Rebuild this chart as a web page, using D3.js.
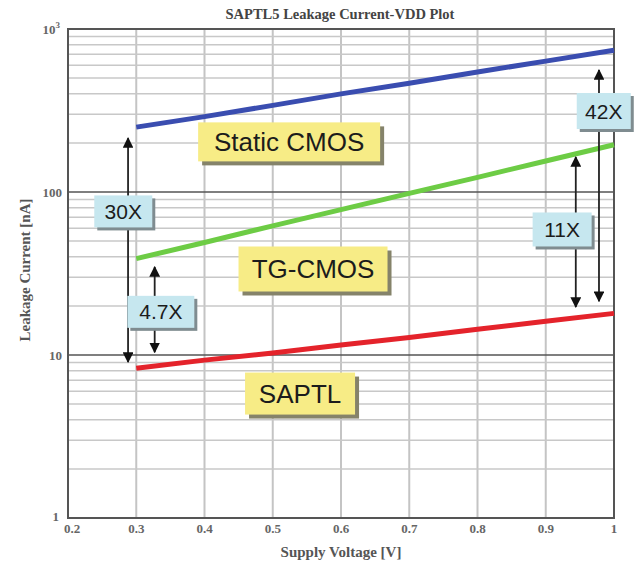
<!DOCTYPE html>
<html lang="en">
<head>
    <meta charset="UTF-8">
    <title>SAPTL5 Leakage Current-VDD Plot</title>
    <script src="https://d3js.org/d3.v7.min.js"></script>
    <style>
        body { margin: 0; background: #fff; }
        svg { display: block; }
        .tick-label { font-family: "Liberation Serif", serif; font-size: 13px; fill: #666; font-weight: bold; }
        .axis-title { font-family: "Liberation Serif", serif; font-size: 15px; fill: #555; font-weight: bold; }
        .tag { font-family: "Liberation Sans", Arial, sans-serif; fill: #1c1c1c; }
    </style>
</head>
<body>
    <svg width="637" height="562"></svg>
    <script>
        // supply voltage (V) and leakage current (nA)
        const voltage    = [0.3, 0.4, 0.5, 0.6, 0.7, 0.8, 0.9, 1.0];
        const staticCmos = [250, 290, 340, 400, 465, 545, 635, 740];
        const tgCmos     = [39, 49, 62, 78, 98, 123, 155, 195];
        const saptl      = [8.3, 9.3, 10.3, 11.5, 12.8, 14.4, 16.1, 18];

        const xTicks = [0.2, 0.3, 0.4, 0.5, 0.6, 0.7, 0.8, 0.9, 1];
        const xTickLabels = ["0.2", "0.3", "0.4", "0.5", "0.6", "0.7", "0.8", "0.9", "1"];
        const yTicks = [1, 10, 100, 1000];
        const yTickLabels = ["1", "10", "100", "10"];

        // series name boxes: text, voltage, current at the box centre
        const seriesTags = [
            { text: "Static CMOS", v: 0.524, i: 203, w: 182, h: 39 },
            { text: "TG-CMOS", v: 0.559, i: 33.7, w: 149, h: 45 },
            { text: "SAPTL", v: 0.540, i: 5.8, w: 110, h: 42 }
        ];
        // ratio arrows: label, arrow voltage, from/to current, box centre
        const ratios = [
            { text: "30X", v: 0.288, from: 214, to: 9.06, bv: 0.281, bi: 76, w: 58, h: 32 },
            { text: "4.7X", v: 0.327, from: 34.7, to: 10.4, bv: 0.336, bi: 18.4, w: 67, h: 32 },
            { text: "11X", v: 0.944, from: 164, to: 19.7, bv: 0.924, bi: 58.9, w: 59, h: 34 },
            { text: "42X", v: 0.978, from: 560, to: 21.4, bv: 0.985, bi: 314, w: 54, h: 36 }
        ];

        const svg = d3.select("svg");
        const mLeft = 68, mRight = 614, mTop = 29, mBottom = 518;

        const x = d3.scaleLinear().domain([0.2, 1]).range([mLeft, mRight]);
        const y = d3.scaleLog().domain([1, 1000]).range([mBottom, mTop]);

        // title
        svg.append("text")
            .attr("x", 340).attr("y", 19)
            .attr("text-anchor", "middle")
            .attr("class", "axis-title")
            .style("fill", "#444")
            .style("font-size", "14.5px")
            .text("SAPTL5 Leakage Current-VDD Plot");

        // grid
        const grid = svg.append("g");
        grid.selectAll(".vgrid")
            .data(xTicks.slice(1, -1))
            .enter().append("line")
            .attr("x1", d => x(d)).attr("x2", d => x(d))
            .attr("y1", mTop).attr("y2", mBottom)
            .attr("stroke", "#c4c4c4").attr("stroke-width", 2);

        grid.selectAll(".hgrid")
            .data(y.ticks().filter(d => d > 1 && d < 1000))
            .enter().append("line")
            .attr("x1", mLeft).attr("x2", mRight)
            .attr("y1", d => y(d)).attr("y2", d => y(d))
            .attr("stroke", d => yTicks.includes(d) ? "#555" : "#c8c8c8")
            .attr("stroke-width", d => yTicks.includes(d) ? 1.6 : 1.5);

        // frame
        svg.append("rect")
            .attr("x", mLeft).attr("y", mTop)
            .attr("width", mRight - mLeft).attr("height", mBottom - mTop)
            .attr("fill", "none").attr("stroke", "#555").attr("stroke-width", 2);

        // tick labels
        svg.selectAll(".xl")
            .data(xTicks)
            .enter().append("text")
            .attr("class", "tick-label")
            .attr("x", (d, i) => x(d) + (i === 0 ? 4 : 0))
            .attr("y", 533)
            .attr("text-anchor", "middle")
            .text((d, i) => xTickLabels[i]);

        const yl = svg.selectAll(".yl")
            .data(yTicks)
            .enter().append("text")
            .attr("class", "tick-label")
            .attr("x", 62)
            .attr("y", d => y(d) + 5)
            .attr("text-anchor", "end")
            .text((d, i) => yTickLabels[i]);
        yl.filter(d => d === 1000).attr("x", 60).append("tspan")
            .attr("dy", -6).style("font-size", "9px").text("3");
        yl.filter(d => d === 1).attr("y", d => y(d) + 3).attr("x", 59);

        // axis titles
        svg.append("text")
            .attr("class", "axis-title")
            .attr("x", 341).attr("y", 557)
            .attr("text-anchor", "middle")
            .text("Supply Voltage [V]");
        svg.append("text")
            .attr("class", "axis-title")
            .attr("transform", "translate(30,270) rotate(-90)")
            .attr("text-anchor", "middle")
            .text("Leakage Current [nA]");

        // series lines
        const series = [
            { values: staticCmos, color: "#3a4db0" },
            { values: tgCmos, color: "#6dcc45" },
            { values: saptl, color: "#e4232b" }
        ];
        const line = d3.line()
            .x((d, i) => x(voltage[i]))
            .y(d => y(d));
        svg.append("g").selectAll("path")
            .data(series)
            .enter().append("path")
            .attr("d", d => line(d.values))
            .attr("fill", "none")
            .attr("stroke", d => d.color)
            .attr("stroke-width", 5);

        // arrow heads
        const defs = svg.append("defs");
        defs.append("marker")
            .attr("id", "head")
            .attr("viewBox", "0 0 10 10")
            .attr("refX", 9).attr("refY", 5)
            .attr("markerWidth", 6).attr("markerHeight", 6)
            .attr("orient", "auto-start-reverse")
            .append("path").attr("d", "M0,0L10,5L0,10Z").attr("fill", "#111");

        const arrows = svg.append("g");
        ratios.forEach(r => {
            arrows.append("line")
                .attr("x1", x(r.v)).attr("x2", x(r.v))
                .attr("y1", y(r.from)).attr("y2", y(r.to))
                .attr("stroke", "#222").attr("stroke-width", 1.8)
                .attr("marker-start", "url(#head)")
                .attr("marker-end", "url(#head)");
        });

        function tagBox(g, cx, cy, w, h, fill, shadow, off) {
            g.append("rect")
                .attr("x", cx - w / 2 + off).attr("y", cy - h / 2 + off)
                .attr("width", w).attr("height", h)
                .attr("fill", shadow);
            g.append("rect")
                .attr("x", cx - w / 2).attr("y", cy - h / 2)
                .attr("width", w).attr("height", h)
                .attr("fill", fill);
        }

        const tags = svg.append("g");
        ratios.forEach(r => {
            const cx = x(r.bv), cy = y(r.bi);
            tagBox(tags, cx, cy, r.w, r.h, "#c6e7ef", "#7f8c90", 3);
            tags.append("text")
                .attr("class", "tag")
                .attr("x", cx).attr("y", cy + 7.5)
                .attr("text-anchor", "middle")
                .style("font-size", "21px")
                .text(r.text);
        });
        seriesTags.forEach(s => {
            const cx = x(s.v), cy = y(s.i);
            tagBox(tags, cx, cy, s.w, s.h, "#f7ec86", "#85836a", 4);
            tags.append("text")
                .attr("class", "tag")
                .attr("x", cx).attr("y", cy + 9.5)
                .attr("text-anchor", "middle")
                .style("font-size", "26px")
                .text(s.text);
        });
    </script>
</body>
</html>
